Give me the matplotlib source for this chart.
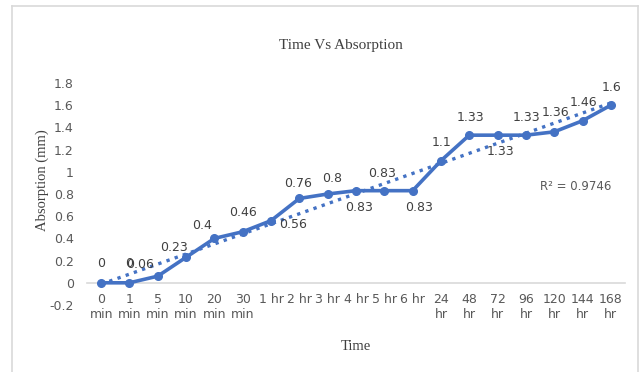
import numpy as np
import matplotlib.pyplot as plt
from matplotlib.lines import Line2D

times = ['0\nmin', '1\nmin', '5\nmin', '10\nmin', '20\nmin', '30\nmin',
         '1 hr', '2 hr', '3 hr', '4 hr', '5 hr', '6 hr',
         '24\nhr', '48\nhr', '72\nhr', '96\nhr', '120\nhr', '144\nhr', '168\nhr']
absorption = [0, 0, 0.06, 0.23, 0.4, 0.46, 0.56, 0.76, 0.8, 0.83, 0.83, 0.83,
              1.1, 1.33, 1.33, 1.33, 1.36, 1.46, 1.6]
r_squared = '0.9746'

# label offsets (pixels) so the value labels sit roughly where they were placed
label_dx = [0, 0, -18, -12, -12, 0, 22, -1, 4, 3, -2, 6, 1, 1, 3, 1, 1, 1, 1]
label_dy = [19, 19, 12, 10, 13, 19, -4, 15, 16, -17, 17, -17, 18, 18, -16, 18, 19, 18, 18]

blue = '#4472C4'
grey_txt = '#595959'

fig = plt.figure(figsize=(6.41, 3.72), dpi=100)
ax = fig.add_axes([87/641, 1 - 305/372, 538/641, 222/372])

x = np.arange(len(absorption))
y = np.array(absorption)

# linear trendline
m, b = np.polyfit(x, y, 1)
ax.plot(x, m*x + b, linestyle=(0, (1, 1.6)), color=blue, lw=2.4, zorder=2)

ax.plot(x, y, color=blue, lw=2.6, marker='o', ms=5.5, zorder=3)

for xi, yi, dx, dy in zip(x, absorption, label_dx, label_dy):
    ax.annotate(f'{yi:g}', (xi, yi), xytext=(dx, dy), textcoords='offset pixels',
                ha='center', va='center', fontsize=9, color='#404040',
                family='DejaVu Sans', zorder=4)

ax.text(15.5, 0.865, f'R² = {r_squared}', fontsize=8.5, color=grey_txt,
        family='DejaVu Sans', va='center')

ax.set_xlim(-0.5, len(absorption) - 0.5)
ax.set_ylim(-0.2, 1.8)
ax.set_yticks(np.arange(-0.2, 1.81, 0.2))
ax.set_yticklabels(['-0.2', '0', '0.2', '0.4', '0.6', '0.8', '1', '1.2', '1.4', '1.6', '1.8'])
ax.set_xticks(x)
ax.set_xticklabels(times, linespacing=1.75)

for s in ['top', 'right', 'left']:
    ax.spines[s].set_visible(False)
ax.spines['bottom'].set_position(('data', 0))
ax.spines['bottom'].set_color('#d9d9d9')
ax.spines['bottom'].set_linewidth(1.2)
ax.spines['bottom'].set_zorder(1)

ax.tick_params(axis='both', length=0, labelsize=9, labelcolor=grey_txt)
ax.tick_params(axis='x', pad=7.5)
ax.tick_params(axis='y', pad=9.5)
for lab in ax.get_xticklabels() + ax.get_yticklabels():
    lab.set_family('DejaVu Sans')
for lab in ax.get_xticklabels():
    lab.set_verticalalignment('top')

fig.text(341/641, 1 - 46/372, 'Time Vs Absorption', ha='center', va='center',
         fontsize=11, family='Liberation Serif', color='#404040')
fig.text(42/641, 1 - 180/372, 'Absorption (mm)', ha='center', va='center',
         rotation=90, fontsize=10.5, family='Liberation Serif', color='#404040')
fig.text(356/641, 1 - 346/372, 'Time', ha='center', va='center',
         fontsize=10.5, family='Liberation Serif', color='#404040')

# chart area frame
frame = dict(color='#d9d9d9', lw=1.2, transform=fig.transFigure)
fig.add_artist(Line2D([12/641, 638/641], [1 - 5.5/372, 1 - 5.5/372], **frame))
fig.add_artist(Line2D([12/641, 12/641], [0, 1 - 5.5/372], **frame))
fig.add_artist(Line2D([638/641, 638/641], [0, 1 - 5.5/372], **frame))

fig.savefig('out.png', dpi=100)
